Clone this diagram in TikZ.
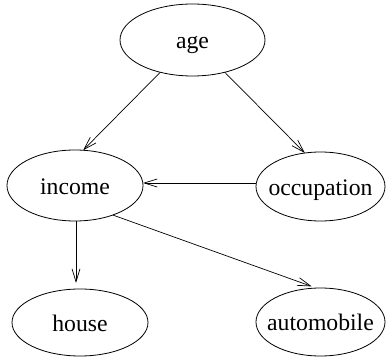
\documentclass[tikz,border=0pt]{standalone}
\usepackage{fontspec}
\setmainfont{Liberation Serif}
\usetikzlibrary{shapes.geometric,arrows.meta}
\newcommand{\zw}[1]{\makebox[0pt]{#1}}
\begin{document}
\begin{tikzpicture}[x=1pt,y=-1pt,
  var/.style={draw, ellipse, line width=0.8pt, inner sep=0pt, outer sep=0pt,
    text height=18pt, text depth=0pt,
    font=\fontsize{23.7}{28}\selectfont},
  edge/.style={line width=0.7pt, -{Straight Barb[length=13pt,width=8pt,line width=0.7pt]}}]
\useasboundingbox (0,0) rectangle (386,358);
\node[var, minimum width=145pt, minimum height=72pt] (age) at (192.5,40) {\zw{age}};
\node[var, minimum width=136pt, minimum height=71pt] (income) at (75,185.5) {\zw{income}};
\node[var, minimum width=129pt, minimum height=69pt] (occupation) at (320.5,186.5) {\zw{occupation}};
\node[var, minimum width=136pt, minimum height=67pt] (house) at (80,322.5) {\zw{house}};
\node[var, minimum width=129pt, minimum height=68pt] (automobile) at (320.5,322) {\zw{automobile}};
\draw[edge] (age.225) -- (income.77);
\draw[edge] (age.315) -- (occupation.115);
\draw[edge] ([yshift=3.5pt]occupation.west) -- ([yshift=2.5pt]income.east);
\draw[edge, shorten >=6pt] ([xshift=1pt]income.south) -- ([xshift=1pt]income.south |- house.north);
\draw[edge, shorten >=5pt] (income.322) -- (automobile.97);
\end{tikzpicture}
\end{document}
